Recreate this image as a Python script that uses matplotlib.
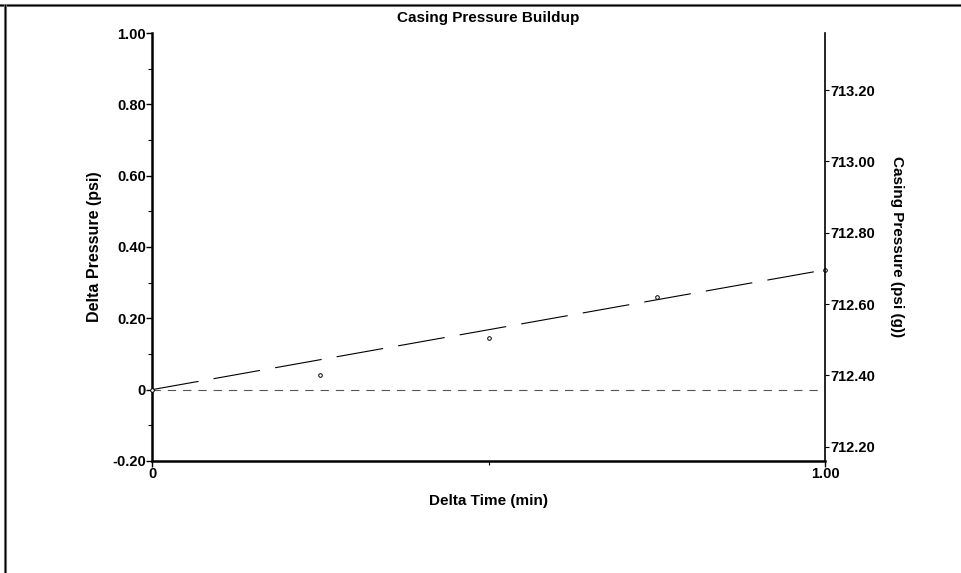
import matplotlib
matplotlib.use('Agg')
import matplotlib.pyplot as plt
from matplotlib.lines import Line2D
from matplotlib.ticker import FixedLocator, FuncFormatter

# readings
delta_time = [0.0, 0.25, 0.5, 0.75, 1.0]
delta_pressure = [0.0, 0.042, 0.146, 0.26, 0.336]
fit_time = [0.0, 1.0]
fit_delta = [0.0, 0.336]
base_pressure = 712.36

left_ticks = [-0.2, 0.0, 0.2, 0.4, 0.6, 0.8, 1.0]
right_ticks = [712.2, 712.4, 712.6, 712.8, 713.0, 713.2]

plt.rcParams['font.family'] = ['Liberation Sans', 'DejaVu Sans']
plt.rcParams['font.weight'] = 'bold'
plt.rcParams['lines.scale_dashes'] = False

fig = plt.figure(figsize=(9.61, 5.73), dpi=100)
ax = fig.add_axes([0.1582, 0.1955, 0.7003, 0.7469])
ax2 = ax.twinx()

# zero reference line and fit line
ax.axhline(0, color='#555555', lw=0.8, dashes=(6, 5), zorder=1)
ax.plot(fit_time, fit_delta, color='black', lw=0.8, dashes=(34, 11), zorder=2)
ax.plot(delta_time, delta_pressure, 'o', ms=2.6, mfc='white', mec='black',
        mew=0.7, zorder=3, clip_on=False)

ax.set_xlim(0, 1)
ax.set_ylim(-0.2, 1.0)
ax2.set_ylim(base_pressure - 0.2, base_pressure + 1.0)

fmt = lambda v, p: '0' if abs(v) < 1e-9 else '%.2f' % v
ax.yaxis.set_major_locator(FixedLocator(left_ticks))
ax.yaxis.set_minor_locator(FixedLocator([t + 0.1 for t in left_ticks[:-1]]))
ax.yaxis.set_major_formatter(FuncFormatter(fmt))
ax.xaxis.set_major_locator(FixedLocator([0, 1]))
ax.xaxis.set_minor_locator(FixedLocator([0.5]))
ax.xaxis.set_major_formatter(FuncFormatter(fmt))
ax2.yaxis.set_major_locator(FixedLocator(right_ticks))
ax2.yaxis.set_major_formatter(FuncFormatter(lambda v, p: '%.2f' % v))

ax.tick_params(axis='both', which='major', length=4, width=1, pad=0.5,
               labelsize=10.5)
ax.tick_params(axis='both', which='minor', length=3, width=0.8)
ax2.tick_params(axis='y', length=3, width=0.8, pad=0.5, labelsize=10.5)

for a in (ax, ax2):
    a.spines['top'].set_visible(False)
ax.spines['left'].set_linewidth(1.8)
ax.spines['bottom'].set_linewidth(1.8)
ax.spines['right'].set_visible(False)
ax2.spines['left'].set_visible(False)
ax2.spines['bottom'].set_visible(False)
ax2.spines['right'].set_linewidth(1.2)

ax.set_title('Casing Pressure Buildup', fontsize=11, fontweight='bold',
             pad=8)
ax.set_xlabel('Delta Time (min)', fontsize=11, fontweight='bold', labelpad=9)
ax.set_ylabel('Delta Pressure (psi)', fontsize=11.5, fontweight='bold',
              labelpad=7)
ax2.set_ylabel('Casing Pressure (psi (g))', fontsize=11, fontweight='bold',
               rotation=-90, labelpad=21)

# outer frame lines on top and left
for x0, y0, x1, y1 in [(0, 0.991, 1, 0.991), (0.0055, 0, 0.0055, 0.991)]:
    fig.add_artist(Line2D([x0, x1], [y0, y1], color='#888888', lw=2.2,
                          transform=fig.transFigure))
    fig.add_artist(Line2D([x0, x1], [y0, y1], color='black', lw=1.0,
                          transform=fig.transFigure))

fig.savefig('out.png', dpi=100)
